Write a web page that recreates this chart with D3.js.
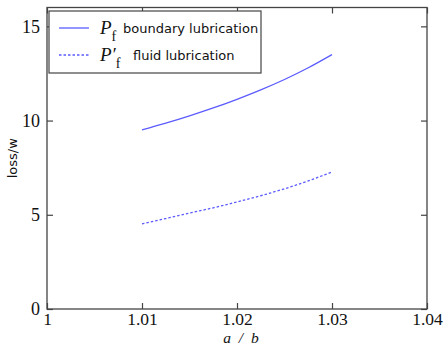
<!DOCTYPE html>
<html><head><meta charset="utf-8">
<script src="https://cdn.jsdelivr.net/npm/d3@7"></script>
<style>body{margin:0;background:#fff}svg{display:block}</style>
</head><body>
<script>
const xValues = [1.01, 1.0125, 1.015, 1.0175, 1.02, 1.0225, 1.025, 1.0275, 1.03];
const boundary = [9.5, 9.86, 10.25, 10.67, 11.13, 11.63, 12.18, 12.8, 13.5];
const fluid = [4.52, 4.8, 5.09, 5.37, 5.68, 6.01, 6.38, 6.8, 7.27];
const xTicks = [1, 1.01, 1.02, 1.03, 1.04];
const xTickLabels = ["1", "1.01", "1.02", "1.03", "1.04"];
const yTicks = [0, 5, 10, 15];
const seriesNames = ["boundary lubrication", "fluid lubrication"];

const W = 445, H = 346;
const m = {left: 47, right: 18, top: 7.5, bottom: 37};
const svg = d3.select("body").append("svg").attr("width", W).attr("height", H);
const x = d3.scaleLinear().domain([1, 1.04]).range([m.left, W - m.right]);
const y = d3.scaleLinear().domain([0, 16]).range([H - m.bottom, m.top]);
const axisColor = "#444";
const lineColor = "#5b5bff";

// frame
svg.append("rect").attr("x", x(1)).attr("y", y(16)).attr("width", x(1.04) - x(1)).attr("height", y(0) - y(16))
  .attr("fill", "none").attr("stroke", axisColor).attr("stroke-width", 1.3);

function styleAxis(g, size) {
  g.select(".domain").remove();
  g.selectAll(".tick line").attr("stroke", axisColor).attr("stroke-width", 1.2);
  g.selectAll(".tick text").attr("fill", "#111").attr("font-family", "Liberation Serif, Times New Roman, serif").attr("font-size", size || 18);
}
svg.append("g").attr("transform", `translate(0,${y(0)})`)
  .call(d3.axisBottom(x).tickValues(xTicks).tickFormat((d, i) => xTickLabels[i]).tickSizeInner(-6).tickPadding(4))
  .call(g => styleAxis(g, 17.5));
svg.append("g").attr("transform", `translate(0,${y(16)})`)
  .call(d3.axisTop(x).tickValues(xTicks).tickFormat("").tickSizeInner(-6))
  .call(g => styleAxis(g));
svg.append("g").attr("transform", `translate(${x(1)},0)`)
  .call(d3.axisLeft(y).tickValues(yTicks).tickSizeInner(-6).tickPadding(7))
  .call(g => styleAxis(g));
svg.append("g").attr("transform", `translate(${x(1.04)},0)`)
  .call(d3.axisRight(y).tickValues(yTicks).tickFormat("").tickSizeInner(-6))
  .call(g => styleAxis(g));

const line = d3.line().x((d, i) => x(xValues[i])).y(d => y(d)).curve(d3.curveNatural);
svg.append("path").attr("d", line(boundary)).attr("fill", "none").attr("stroke", lineColor).attr("stroke-width", 1.3);
svg.append("path").attr("d", line(fluid)).attr("fill", "none").attr("stroke", lineColor).attr("stroke-width", 1.3).attr("stroke-dasharray", "2.5,2");

// labels
svg.append("text").attr("x", 241).attr("y", 342.5).attr("text-anchor", "middle")
  .attr("font-family", "Liberation Serif, serif").attr("font-style", "italic").attr("font-size", 15.5).attr("fill", "#111")
  .attr("xml:space", "preserve").text("a  /  b");
svg.append("text").attr("transform", `translate(17,${(y(0)+y(16))/2}) rotate(-90)`).attr("text-anchor", "middle")
  .attr("font-family", "DejaVu Sans, sans-serif").attr("font-size", 13).attr("fill", "#111").text("loss/w");

// legend
const lg = svg.append("g");
lg.append("rect").attr("x", 49).attr("y", 11).attr("width", 212).attr("height", 62)
  .attr("fill", "#fff").attr("stroke", axisColor).attr("stroke-width", 1.2);
const legendRows = [{y: 28, dash: null, prime: false, name: seriesNames[0], tx: 123},
                    {y: 55, dash: "2.5,2", prime: true, name: seriesNames[1], tx: 133}];
legendRows.forEach(r => {
  lg.append("line").attr("x1", 59).attr("x2", 89).attr("y1", r.y).attr("y2", r.y)
    .attr("stroke", lineColor).attr("stroke-width", 1.3).attr("stroke-dasharray", r.dash);
  const t = lg.append("text").attr("x", 100).attr("y", r.y + 6)
    .attr("font-family", "Liberation Serif, serif").attr("font-size", 19).attr("fill", "#111");
  t.append("tspan").attr("font-style", "italic").text(r.prime ? "P\u2032" : "P");
  t.append("tspan").attr("dy", 7).attr("font-size", 14).text("f");
  lg.append("text").attr("x", r.tx).attr("y", r.y + 5)
    .attr("font-family", "DejaVu Sans, sans-serif").attr("font-size", 13).attr("fill", "#111").text(r.name);
});
</script>
</body></html>
